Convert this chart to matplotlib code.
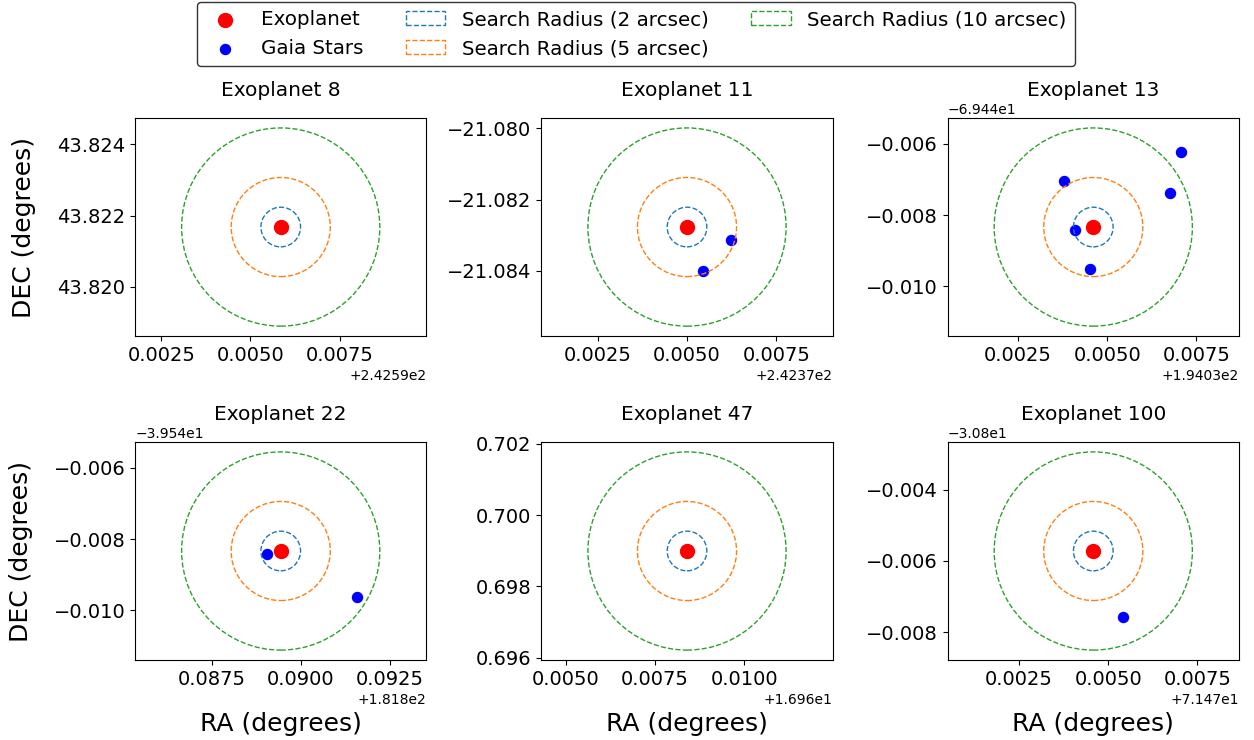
import numpy as np
import matplotlib
matplotlib.use('Agg')
import matplotlib.pyplot as plt
from matplotlib.patches import Circle

# exoplanet positions (degrees)
planet_ids = [8, 11, 13, 22, 47, 100]
planet_ra = [242.59585, 242.37500, 194.034607, 181.889439, 16.96840, 71.47458]
planet_dec = [43.82168, -21.08277, -69.448335, -39.548336, 0.698994, -30.80572]

# gaia stars found around each exoplanet
star_ra = {
    8: [],
    11: [242.37624, 242.37544],
    13: [194.037075, 194.033794, 194.036748, 194.034084, 194.034523],
    22: [181.889056, 181.891589],
    47: [],
    100: [71.475401],
}
star_dec = {
    8: [],
    11: [-21.08314, -21.08399],
    13: [-69.446223, -69.447033, -69.447377, -69.448428, -69.449507],
    22: [-39.548429, -39.549632],
    47: [],
    100: [-30.807584],
}

radii_arcsec = [2, 5, 10]
radii_colors = ['C0', 'C1', 'C2']


fig, axes = plt.subplots(2, 3, figsize=(12.54, 7.4), dpi=100)
fig.subplots_adjust(left=0.1077, right=0.988, top=0.8405, bottom=0.1081,
                    wspace=0.3945, hspace=0.486)

handles = None
for i, ax in enumerate(axes.flat):
    pid = planet_ids[i]
    ra = planet_ra[i]
    dec = planet_dec[i]

    h_star = ax.scatter(star_ra[pid], star_dec[pid], color='blue', s=52, label='Gaia Stars')
    h_pl = ax.scatter([ra], [dec], color='red', s=100, label='Exoplanet')

    h_circ = []
    for r, c in zip(radii_arcsec, radii_colors):
        circ = Circle((ra, dec), r / 3600.0, fill=False, edgecolor=c, linestyle='--',
                      linewidth=1.0, label='Search Radius (%d arcsec)' % r)
        ax.add_patch(circ)
        h_circ.append(circ)

    ax.set_aspect('equal', adjustable='datalim')
    ax.autoscale_view()
    ax.set_title('Exoplanet %d' % pid, fontsize=14.5, pad=16)
    ax.tick_params(labelsize=14)
    if i % 3 == 0:
        ax.set_ylabel('DEC (degrees)', fontsize=18, labelpad=15)
    if i >= 3:
        ax.set_xlabel('RA (degrees)', fontsize=18, labelpad=17)

    if handles is None and len(star_ra[pid]) > 0:
        handles = [h_pl, h_star] + h_circ

# RA axis of exoplanet 47 shown relative to 16.96
axes[1, 1].xaxis.get_major_formatter().set_useOffset(16.96)

labels = [h.get_label() for h in handles]
fig.legend(handles, labels, loc='upper center', bbox_to_anchor=(0.507, 0.997),
           borderaxespad=0, ncol=3, fontsize=14.3, edgecolor='black',
           handletextpad=0.85, columnspacing=2.1)

plt.savefig('out.png', dpi=100)
